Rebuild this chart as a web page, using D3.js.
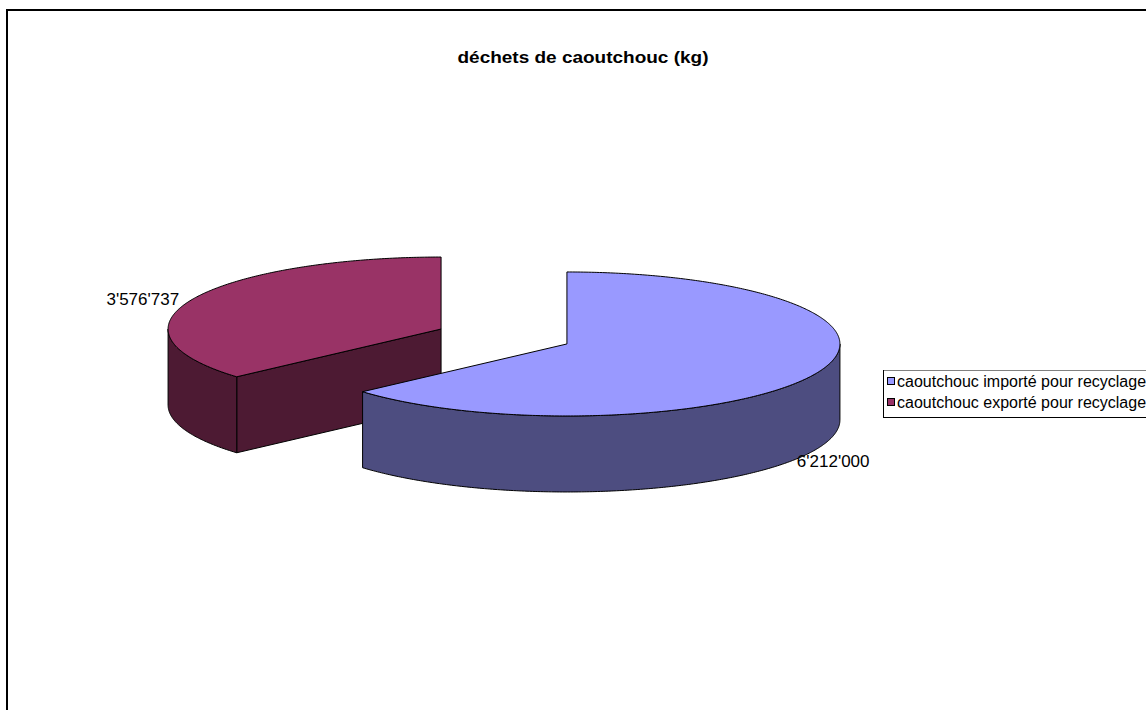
<!DOCTYPE html>
<html>
<head>
<meta charset="utf-8">
<script src="https://cdn.jsdelivr.net/npm/d3@7"></script>
<style>
  body { margin: 0; background: #fff; }
  svg { display: block; font-family: Arial, "Liberation Sans", sans-serif; }
</style>
</head>
<body>
<div id="chart"></div>
<script>
/* global d3 */

// data
const categories = ['caoutchouc importé pour recyclage', 'caoutchouc exporté pour recyclage']
const values = [6212000, 3576737]
const valueLabels = ["6'212'000", "3'576'737"]
const chartTitle = 'déchets de caoutchouc (kg)'

// canvas
const width = 1146,
  height = 710

// pie geometry (3D, tilted)
const cx = 504, cy = 336.5
const rx = 273, ry = 72
const depth = 76
const explode = 69

const topColor = d3.scaleOrdinal().domain(categories).range(['#9999ff', '#993366'])
const sideColor = d3.scaleOrdinal().domain(categories).range(['#4d4d80', '#4d1a33'])

let svg = d3.select('#chart')
  .append('svg')
  .attr('width', width)
  .attr('height', height)

// chart frame (cut by the window on right and bottom)
svg.append('path')
  .attr('d', `M7,${height + 10}V10H${width + 10}`)
  .attr('fill', 'none')
  .attr('stroke', '#000')
  .attr('stroke-width', 2)

svg.append('text')
  .attr('x', 583)
  .attr('y', 63)
  .attr('text-anchor', 'middle')
  .attr('font-weight', 'bold')
  .attr('font-size', 17)
  .attr('textLength', 251)
  .attr('lengthAdjust', 'spacingAndGlyphs')
  .text(chartTitle)

const pie = d3.pie().sort(null).value(d => d.value)
const slices = pie(categories.map((c, i) => ({ name: c, value: values[i], label: valueLabels[i] })))

// point on ellipse of a slice
const pt = (s, a, dy = 0) => [s.x + rx * Math.sin(a), s.y - ry * Math.cos(a) + dy]

slices.forEach(s => {
  const mid = (s.startAngle + s.endAngle) / 2
  s.mid = mid
  s.x = cx + explode * Math.sin(mid)
  s.y = cy - explode * (ry / rx) * Math.cos(mid)
})

const line = d3.line()
const arcPoints = (s, a0, a1, dy = 0) => {
  const n = Math.max(2, Math.ceil(Math.abs(a1 - a0) / 0.01))
  return d3.range(n + 1).map(k => pt(s, a0 + (a1 - a0) * k / n, dy))
}

// back slices first
const order = slices.slice().sort((a, b) => a.y - b.y)

const g = svg.append('g')
order.forEach(s => {
  const name = s.data.name
  const faces = []
  // radial face at start angle
  if (Math.sin(s.startAngle) < -1e-6) {
    const p = pt(s, s.startAngle)
    faces.push([[s.x, s.y], p, [p[0], p[1] + depth], [s.x, s.y + depth]])
  }
  // radial face at end angle
  if (Math.sin(s.endAngle) > 1e-6) {
    const p = pt(s, s.endAngle)
    faces.push([[s.x, s.y], p, [p[0], p[1] + depth], [s.x, s.y + depth]])
  }
  // outer rim, front half only
  const a0 = Math.max(s.startAngle, Math.PI / 2)
  const a1 = Math.min(s.endAngle, 3 * Math.PI / 2)
  if (a1 > a0) {
    faces.push(arcPoints(s, a0, a1).concat(arcPoints(s, a1, a0, depth)))
  }
  faces.forEach(f => {
    g.append('path')
      .attr('d', line(f) + 'Z')
      .attr('fill', sideColor(name))
      .attr('stroke', '#000')
      .attr('stroke-width', 1)
      .attr('stroke-linejoin', 'round')
  })
  // top face
  g.append('path')
    .attr('d', line([[s.x, s.y]].concat(arcPoints(s, s.startAngle, s.endAngle))) + 'Z')
    .attr('fill', topColor(name))
    .attr('stroke', '#000')
    .attr('stroke-width', 1)
    .attr('stroke-linejoin', 'round')
})

// value labels, placed from the slice middle on the rim
slices.forEach(s => {
  const p = pt(s, s.mid)
  const right = Math.sin(s.mid) > 0
  svg.append('text')
    .attr('x', right ? p[0] - 19 : p[0] - 13)
    .attr('y', right ? p[1] + depth + 17 : p[1] + 6)
    .attr('text-anchor', right ? 'start' : 'end')
    .attr('font-size', 17)
    .text(s.data.label)
})

// legend
const legend = svg.append('g').attr('transform', 'translate(883,370)')
legend.append('rect')
  .attr('x', 0.5).attr('y', 0.5)
  .attr('width', 300).attr('height', 47)
  .attr('fill', '#fff')
  .attr('stroke', '#000')
  .attr('stroke-width', 1)
legend.append('line')
  .attr('x1', 1).attr('x2', 300)
  .attr('y1', 0.5).attr('y2', 0.5)
  .attr('stroke', '#808080')

const item = legend.selectAll('.item')
  .data(categories)
  .enter()
  .append('g')
  .attr('class', 'item')
  .attr('transform', (d, i) => `translate(0, ${i * 21})`)

item.append('rect')
  .attr('x', 4.5).attr('y', 7.5)
  .attr('width', 7).attr('height', 7)
  .attr('fill', d => topColor(d))
  .attr('stroke', '#000')

item.append('text')
  .attr('x', 14)
  .attr('y', 17)
  .attr('font-size', 16)
  .text(d => d)
</script>
</body>
</html>
